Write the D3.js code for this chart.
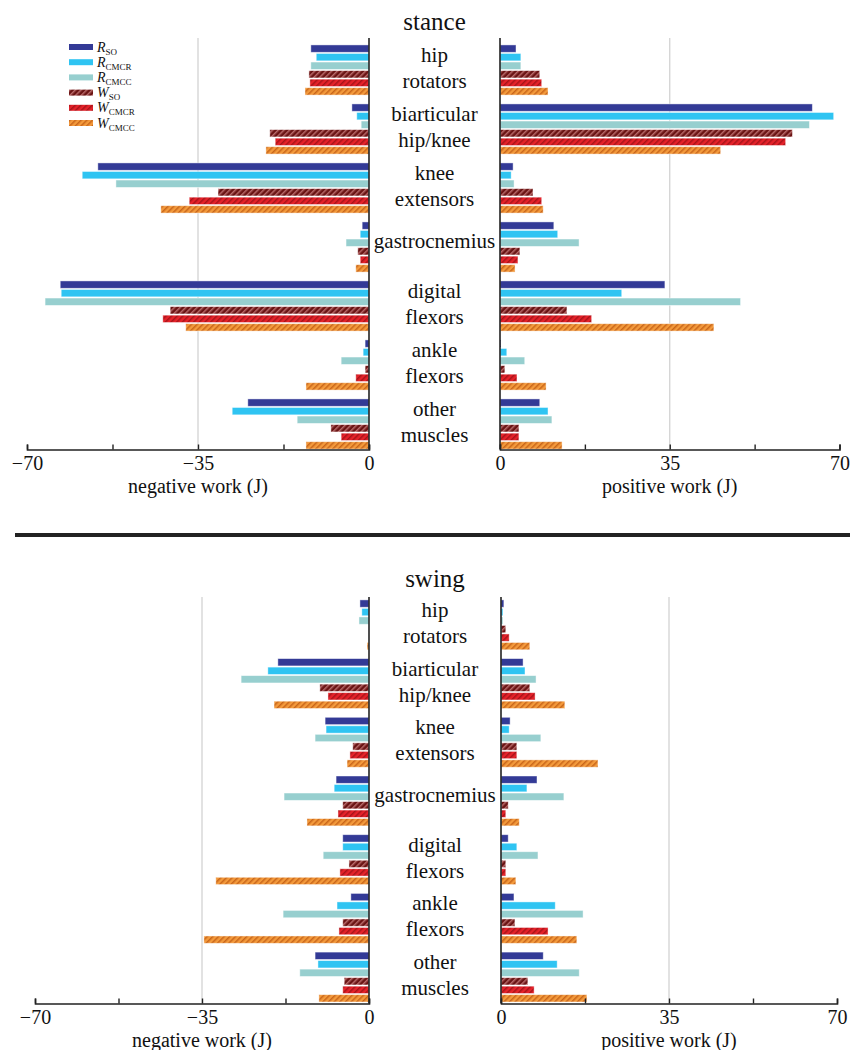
<!DOCTYPE html>
<html>
<head>
<meta charset="utf-8">
<script src="https://cdn.jsdelivr.net/npm/d3@7"></script>
<style>
  html, body { margin: 0; padding: 0; background: #fff; }
</style>
</head>
<body>
<svg id="chart" width="852" height="1050"></svg>
<script>
const SERIF = "Liberation Serif";

// Muscle groups (rows) and the six estimates drawn for each
const categories = [
  ["hip", "rotators"],
  ["biarticular", "hip/knee"],
  ["knee", "extensors"],
  ["gastrocnemius"],
  ["digital", "flexors"],
  ["ankle", "flexors"],
  ["other", "muscles"]
];
const seriesKeys = ["R_SO", "R_CMCR", "R_CMCC", "W_SO", "W_CMCR", "W_CMCC"];
const seriesBase = ["R", "R", "R", "W", "W", "W"];
const seriesSub = ["SO", "CMCR", "CMCC", "SO", "CMCR", "CMCC"];

// Work magnitudes (J); one row per series, one value per muscle group
const stanceNegative = [
  [11.9, 3.5, 55.5, 1.4, 63.2, 0.8, 24.8],
  [10.8, 2.5, 58.7, 1.8, 63.0, 1.2, 28.0],
  [11.9, 1.6, 51.8, 4.7, 66.3, 5.7, 14.7],
  [12.3, 20.3, 30.9, 2.3, 40.7, 0.8, 7.8],
  [12.1, 19.2, 36.8, 1.8, 42.2, 2.7, 5.7],
  [13.1, 21.1, 42.6, 2.7, 37.5, 12.9, 12.9]
];
const stancePositive = [
  [3.3, 64.4, 2.7, 11.1, 34.0, 0.2, 8.2],
  [4.3, 68.8, 2.3, 11.9, 25.1, 1.4, 9.9],
  [4.3, 63.8, 2.9, 16.3, 49.6, 5.1, 10.7],
  [8.2, 60.3, 6.8, 4.1, 13.8, 1.0, 3.9],
  [8.6, 58.9, 8.6, 3.7, 18.9, 3.5, 3.9],
  [9.9, 45.5, 8.9, 3.1, 44.1, 9.5, 12.8]
];
const swingNegative = [
  [1.9, 19.1, 9.2, 6.9, 5.5, 3.8, 11.3],
  [1.5, 21.2, 9.0, 7.3, 5.5, 6.7, 10.7],
  [2.1, 26.8, 11.3, 17.8, 9.6, 18.0, 14.5],
  [0.0, 10.3, 3.4, 5.5, 4.2, 5.5, 5.2],
  [0.0, 8.6, 4.0, 6.5, 6.1, 6.3, 5.5],
  [0.4, 19.9, 4.6, 13.0, 32.1, 34.6, 10.5]
];
const swingPositive = [
  [0.6, 4.6, 1.9, 7.5, 1.5, 2.7, 8.8],
  [0.4, 5.0, 1.7, 5.4, 3.3, 11.3, 11.7],
  [0.4, 7.3, 8.3, 13.1, 7.7, 17.1, 16.3],
  [1.0, 6.0, 3.3, 1.5, 1.0, 2.9, 5.6],
  [1.7, 7.1, 3.3, 1.0, 1.0, 9.8, 6.9],
  [6.0, 13.3, 20.2, 3.8, 3.1, 15.8, 17.9]
];
const negTicks = [-70, -52.5, -35, -17.5, 0];
const posTicks = [0, 17.5, 35, 52.5, 70];
const labelledTicks = [-70, -35, 0, 35, 70];

const colors = ["#333a96", "#2fc4f2", "#97cfcf", "#6a1414", "#e5222a", "#f39a3c"];
const stripeColors = [null, null, null, "#b86a6a", "#a81319", "#c9661a"];

const svg = d3.select("#chart");
const defs = svg.append("defs");
seriesKeys.forEach((k, i) => {
  if (!stripeColors[i]) return;
  const p = defs.append("pattern")
    .attr("id", "hatch-" + k)
    .attr("patternUnits", "userSpaceOnUse")
    .attr("width", 4).attr("height", 4)
    .attr("patternTransform", "rotate(45)");
  p.append("rect").attr("width", 4).attr("height", 4).attr("fill", colors[i]);
  p.append("rect").attr("x", 0).attr("width", 1.5).attr("height", 4).attr("fill", stripeColors[i]);
});
const fillOf = i => stripeColors[i] ? `url(#hatch-${seriesKeys[i]})` : colors[i];

function addText(sel, x, y, size, str) {
  return sel.append("text").attr("x", x).attr("y", y)
    .attr("text-anchor", "middle").attr("fill", "#111")
    .style("font-family", SERIF).style("font-size", size + "px")
    .text(str);
}

function drawPanel(cfg) {
  const g = svg.append("g");
  const xNeg = d3.scaleLinear().domain([-70, 0]).range(cfg.negRange);
  const xPos = d3.scaleLinear().domain([0, 70]).range(cfg.posRange);
  const yCat = d3.scaleBand().domain(d3.range(categories.length))
    .range(cfg.yRange).paddingInner(0.15).paddingOuter(0.075);
  const ySer = d3.scaleBand().domain(d3.range(seriesKeys.length))
    .range([0, yCat.bandwidth()]).paddingInner(0.14).paddingOuter(0);

  // light reference lines at +/-35
  g.append("line").attr("x1", xNeg(-35)).attr("x2", xNeg(-35))
    .attr("y1", cfg.top).attr("y2", cfg.axisY).attr("stroke", "#cfcfcf").attr("stroke-width", 1.2);
  g.append("line").attr("x1", xPos(35)).attr("x2", xPos(35))
    .attr("y1", cfg.top).attr("y2", cfg.axisY).attr("stroke", "#cfcfcf").attr("stroke-width", 1.2);

  // bars
  const rows = [];
  categories.forEach((c, ci) => seriesKeys.forEach((s, si) => {
    rows.push({ ci, si, neg: cfg.neg[si][ci], pos: cfg.pos[si][ci] });
  }));
  g.selectAll("rect.neg").data(rows).join("rect").attr("class", "neg")
    .attr("x", d => xNeg(-d.neg))
    .attr("width", d => xNeg(0) - xNeg(-d.neg))
    .attr("y", d => yCat(d.ci) + ySer(d.si))
    .attr("height", ySer.bandwidth())
    .attr("fill", d => fillOf(d.si))
    .attr("stroke", "rgba(255,255,255,0.55)").attr("stroke-width", 0.8);
  g.selectAll("rect.pos").data(rows).join("rect").attr("class", "pos")
    .attr("x", xPos(0))
    .attr("width", d => xPos(d.pos) - xPos(0))
    .attr("y", d => yCat(d.ci) + ySer(d.si))
    .attr("height", ySer.bandwidth())
    .attr("fill", d => fillOf(d.si))
    .attr("stroke", "rgba(255,255,255,0.55)").attr("stroke-width", 0.8);

  // zero lines bounding the label column
  [xNeg(0), xPos(0)].forEach(x => {
    g.append("line").attr("x1", x).attr("x2", x)
      .attr("y1", cfg.top).attr("y2", cfg.axisY)
      .attr("stroke", "#222").attr("stroke-width", 1.6);
  });

  // muscle group labels
  const midX = (xNeg(0) + xPos(0)) / 2;
  categories.forEach((lines, ci) => {
    const y0 = yCat(ci);
    const ys = lines.length === 2 ? [y0 + 17, y0 + 43] : [y0 + 26];
    lines.forEach((t, li) => addText(g, midX, ys[li], 21, t));
  });

  // axes
  const fmt = v => labelledTicks.includes(v) ? d3.format("d")(v) : "";
  const axNeg = d3.axisBottom(xNeg).tickValues(negTicks).tickFormat(fmt)
    .tickSizeInner(-5).tickSizeOuter(-5).tickPadding(6);
  const axPos = d3.axisBottom(xPos).tickValues(posTicks).tickFormat(fmt)
    .tickSizeInner(-5).tickSizeOuter(-5).tickPadding(6);
  [axNeg, axPos].forEach(ax => {
    const a = g.append("g").attr("transform", `translate(0,${cfg.axisY})`).call(ax);
    a.select(".domain").attr("stroke", "#222").attr("stroke-width", 1.6);
    a.selectAll(".tick line").attr("stroke", "#222").attr("stroke-width", 1.4);
    a.selectAll(".tick text").attr("fill", "#111")
      .style("font-family", SERIF).style("font-size", "20px");
  });
  addText(g, xNeg(-35), cfg.axisY + 43, 20, "negative work (J)");
  addText(g, xPos(35), cfg.axisY + 43, 20, "positive work (J)");

  // panel title
  addText(g, midX, cfg.titleY, 25, cfg.title);
}

drawPanel({
  title: "stance", titleY: 30,
  neg: stanceNegative, pos: stancePositive,
  negRange: [27, 369], posRange: [500, 839.5],
  yRange: [40.5, 453.5], top: 38, axisY: 449.5
});
drawPanel({
  title: "swing", titleY: 587,
  neg: swingNegative, pos: swingPositive,
  negRange: [35, 369], posRange: [501, 837],
  yRange: [595.5, 1006.4], top: 597, axisY: 1003.5
});

// divider between the two phases
svg.append("line").attr("x1", 15).attr("x2", 850).attr("y1", 535).attr("y2", 535)
  .attr("stroke", "#222").attr("stroke-width", 4);

// legend
const legend = svg.append("g").attr("transform", "translate(69,44)");
seriesKeys.forEach((k, i) => {
  const row = legend.append("g").attr("transform", `translate(0,${i * 15.2})`);
  row.append("rect").attr("width", 24).attr("height", 6).attr("fill", fillOf(i));
  const t = row.append("text").attr("x", 28).attr("y", 7.5).attr("fill", "#111")
    .style("font-family", SERIF);
  t.append("tspan").style("font-style", "italic").style("font-size", "14px").text(seriesBase[i]);
  t.append("tspan").style("font-size", "9px").attr("dy", 3).text(seriesSub[i]);
});
</script>
</body>
</html>
